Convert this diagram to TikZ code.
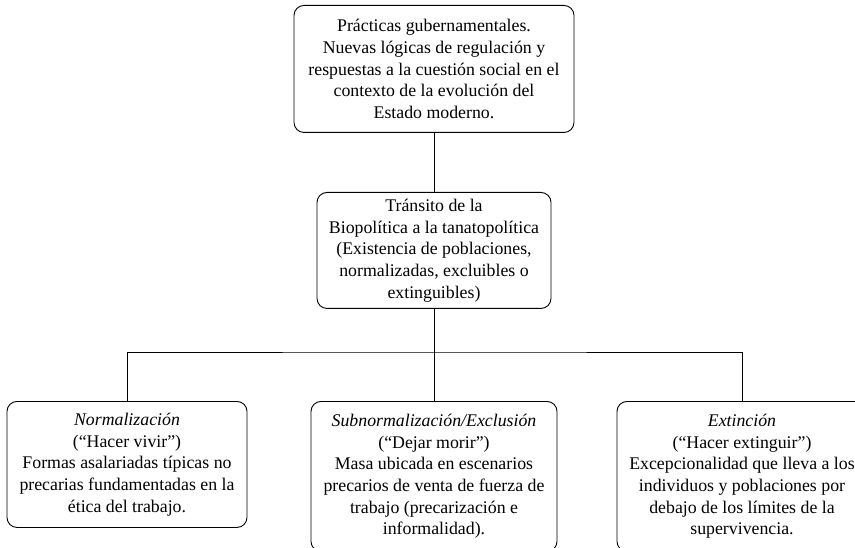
\documentclass[tikz,border=0pt]{standalone}
\usepackage{fontspec}
\setmainfont{Liberation Serif}
\usepackage{tikz}

\tikzset{
    caja/.style={draw, line width=0.9pt, rounded corners=10pt, align=center,
        anchor=north, inner sep=2pt, font=\fontsize{17.8}{21.7}\selectfont},
    rama/.style={line width=0.9pt}
}

\begin{document}
\begin{tikzpicture}[x=1pt,y=-1pt]
    \path [use as bounding box, clip] (0,0) rectangle (855,548);
    \node [caja, minimum width=280pt, minimum height=127pt] (practicas) at (434,5)
        {Prácticas gubernamentales.\\ Nuevas lógicas de regulación y\\
         respuestas a la cuestión social en el\\ contexto de la evolución del\\ Estado moderno.};
    \node [caja, minimum width=234pt, minimum height=116pt] (transito) at (434,192)
        {Tránsito de la\\ Biopolítica a la tanatopolítica\\ (Existencia de poblaciones,\\
         normalizadas, excluibles o\\ extinguibles)};
    \node [caja, minimum width=240pt, minimum height=126pt] (normal) at (127,401)
        {\textit{Normalización}\\ (“Hacer vivir”)\\ Formas asalariadas típicas no\\
         precarias fundamentadas en la\\ ética del trabajo.};
    \node [caja, minimum width=246pt, minimum height=150pt] (subnormal) at (434,401)
        {\textit{Subnormalización/Exclusión}\\ (“Dejar morir”)\\ Masa ubicada en escenarios\\
         precarios de venta de fuerza de\\ trabajo (precarización e\\ informalidad).};
    \node [caja, minimum width=250pt, minimum height=150pt] (extincion) at (742,401)
        {\textit{Extinción}\\ (“Hacer extinguir”)\\ Excepcionalidad que lleva a los\\
         individuos y poblaciones por\\ debajo de los límites de la\\ supervivencia.};
    \coordinate (cruce) at (434,352);
    \draw [rama] (practicas.south) -- (transito.north);
    \draw [rama] (transito.south) -- (cruce);
    \draw [rama] (normal.north) |- (cruce) -| (extincion.north);
    \draw [rama] (cruce) -- (subnormal.north);
\end{tikzpicture}
\end{document}
